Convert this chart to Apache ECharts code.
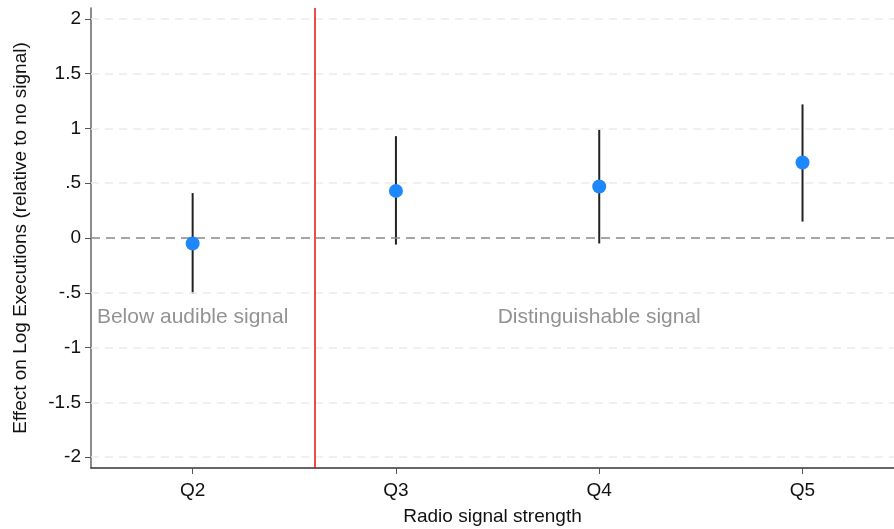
<!DOCTYPE html>
<html>
<head>
<meta charset="utf-8">
<script src="https://cdn.jsdelivr.net/npm/echarts@6/dist/echarts.min.js"></script>
<style>
html,body{margin:0;padding:0;background:#fff;}
#chart{width:894px;height:529px;}
</style>
</head>
<body>
<div id="chart"></div>
<script>
// ---- data ----
const categories = ['Q2', 'Q3', 'Q4', 'Q5'];
const xPositions = [2, 3, 4, 5];
const estimates = [-0.05, 0.43, 0.47, 0.69];
const ciLower = [-0.51, -0.06, -0.05, 0.15];
const ciUpper = [0.41, 0.93, 0.99, 1.22];
const yTicks = [-2, -1.5, -1, -0.5, 0, 0.5, 1, 1.5, 2];
const yTickLabels = ['-2', '-1.5', '-1', '-.5', '0', '.5', '1', '1.5', '2'];
const cutoffX = 2.6;
const annotationTexts = ['Below audible signal', 'Distinguishable signal'];
const annotationX = [2, 4];
const annotationY = [-0.72, -0.72];

const FONT = 'Liberation Sans, Arial, Helvetica, sans-serif';

const chart = echarts.init(document.getElementById('chart'), null, {renderer: 'canvas'});

const barData = xPositions.map((x, i) => [x, ciLower[i], ciUpper[i]]);
const pointData = xPositions.map((x, i) => [x, estimates[i]]);
const annData = annotationTexts.map((t, i) => ({name: t, value: [annotationX[i], annotationY[i]]}));

const option = {
  animation: false,
  backgroundColor: '#ffffff',
  grid: {left: 91, right: 0, top: 8, bottom: 61, containLabel: false, outerBoundsMode: 'none'},
  xAxis: {
    type: 'value',
    min: 1.5,
    max: 5.45,
    name: 'Radio signal strength',
    nameLocation: 'middle',
    nameGap: 39,
    nameTextStyle: {color: '#111', fontSize: 19, fontFamily: FONT},
    axisLine: {show: true, onZero: false, lineStyle: {color: '#333', width: 1.5}},
    axisTick: {show: true, customValues: xPositions, length: 6, lineStyle: {color: '#555', width: 1}},
    axisLabel: {
      customValues: xPositions,
      margin: 13,
      color: '#111', fontSize: 19, fontFamily: FONT,
      formatter: v => categories[xPositions.indexOf(v)] || ''
    },
    splitLine: {show: false}
  },
  yAxis: {
    type: 'value',
    min: -2.1,
    max: 2.1,
    name: 'Effect on Log Executions (relative to no signal)',
    nameLocation: 'middle',
    nameGap: 61,
    nameTextStyle: {color: '#111', fontSize: 19, fontFamily: FONT},
    axisLine: {show: true, onZero: false, lineStyle: {color: '#666', width: 1.5}},
    axisTick: {show: true, customValues: yTicks, length: 6, lineStyle: {color: '#555', width: 1}},
    axisLabel: {
      customValues: yTicks,
      margin: 10,
      color: '#111', fontSize: 19, fontFamily: FONT,
      formatter: v => {
        const i = yTicks.findIndex(t => Math.abs(t - v) < 1e-9);
        return i >= 0 ? yTickLabels[i] : '';
      }
    },
    splitLine: {show: false}
  },
  series: [
    {
      type: 'line',
      data: [],
      silent: true,
      markLine: {
        silent: true,
        symbol: 'none',
        label: {show: false},
        lineStyle: {color: '#ebebeb', type: [8, 6], width: 1.5},
        data: yTicks.filter(t => t !== 0).map(t => ({yAxis: t}))
      },
      z: 1
    },
    {
      type: 'line',
      data: [],
      silent: true,
      markLine: {
        silent: true,
        symbol: 'none',
        label: {show: false},
        lineStyle: {color: '#888', type: [9, 6], width: 1.5},
        data: [{yAxis: 0}]
      },
      z: 2
    },
    {
      type: 'line',
      data: [],
      silent: true,
      markLine: {
        silent: true,
        symbol: 'none',
        label: {show: false},
        lineStyle: {color: '#e8100c', type: 'solid', width: 1.5},
        data: [{xAxis: cutoffX}]
      },
      z: 3
    },
    {
      type: 'custom',
      data: barData,
      encode: {x: 0, y: [1, 2]},
      renderItem: function (params, api) {
        const x = api.value(0);
        const lo = api.coord([x, api.value(1)]);
        const hi = api.coord([x, api.value(2)]);
        return {
          type: 'line',
          shape: {x1: lo[0], y1: lo[1], x2: hi[0], y2: hi[1]},
          style: {stroke: '#222', lineWidth: 2}
        };
      },
      z: 4
    },
    {
      type: 'scatter',
      data: pointData,
      symbol: 'circle',
      symbolSize: 14,
      itemStyle: {color: '#1e87fb', opacity: 1},
      z: 5
    },
    {
      type: 'scatter',
      data: annData,
      symbolSize: 0,
      silent: true,
      label: {
        show: true,
        position: 'inside',
        formatter: p => p.name,
        color: '#777',
        fontSize: 21,
        fontFamily: FONT
      },
      z: 6
    }
  ]
};
chart.setOption(option);
</script>
</body>
</html>
